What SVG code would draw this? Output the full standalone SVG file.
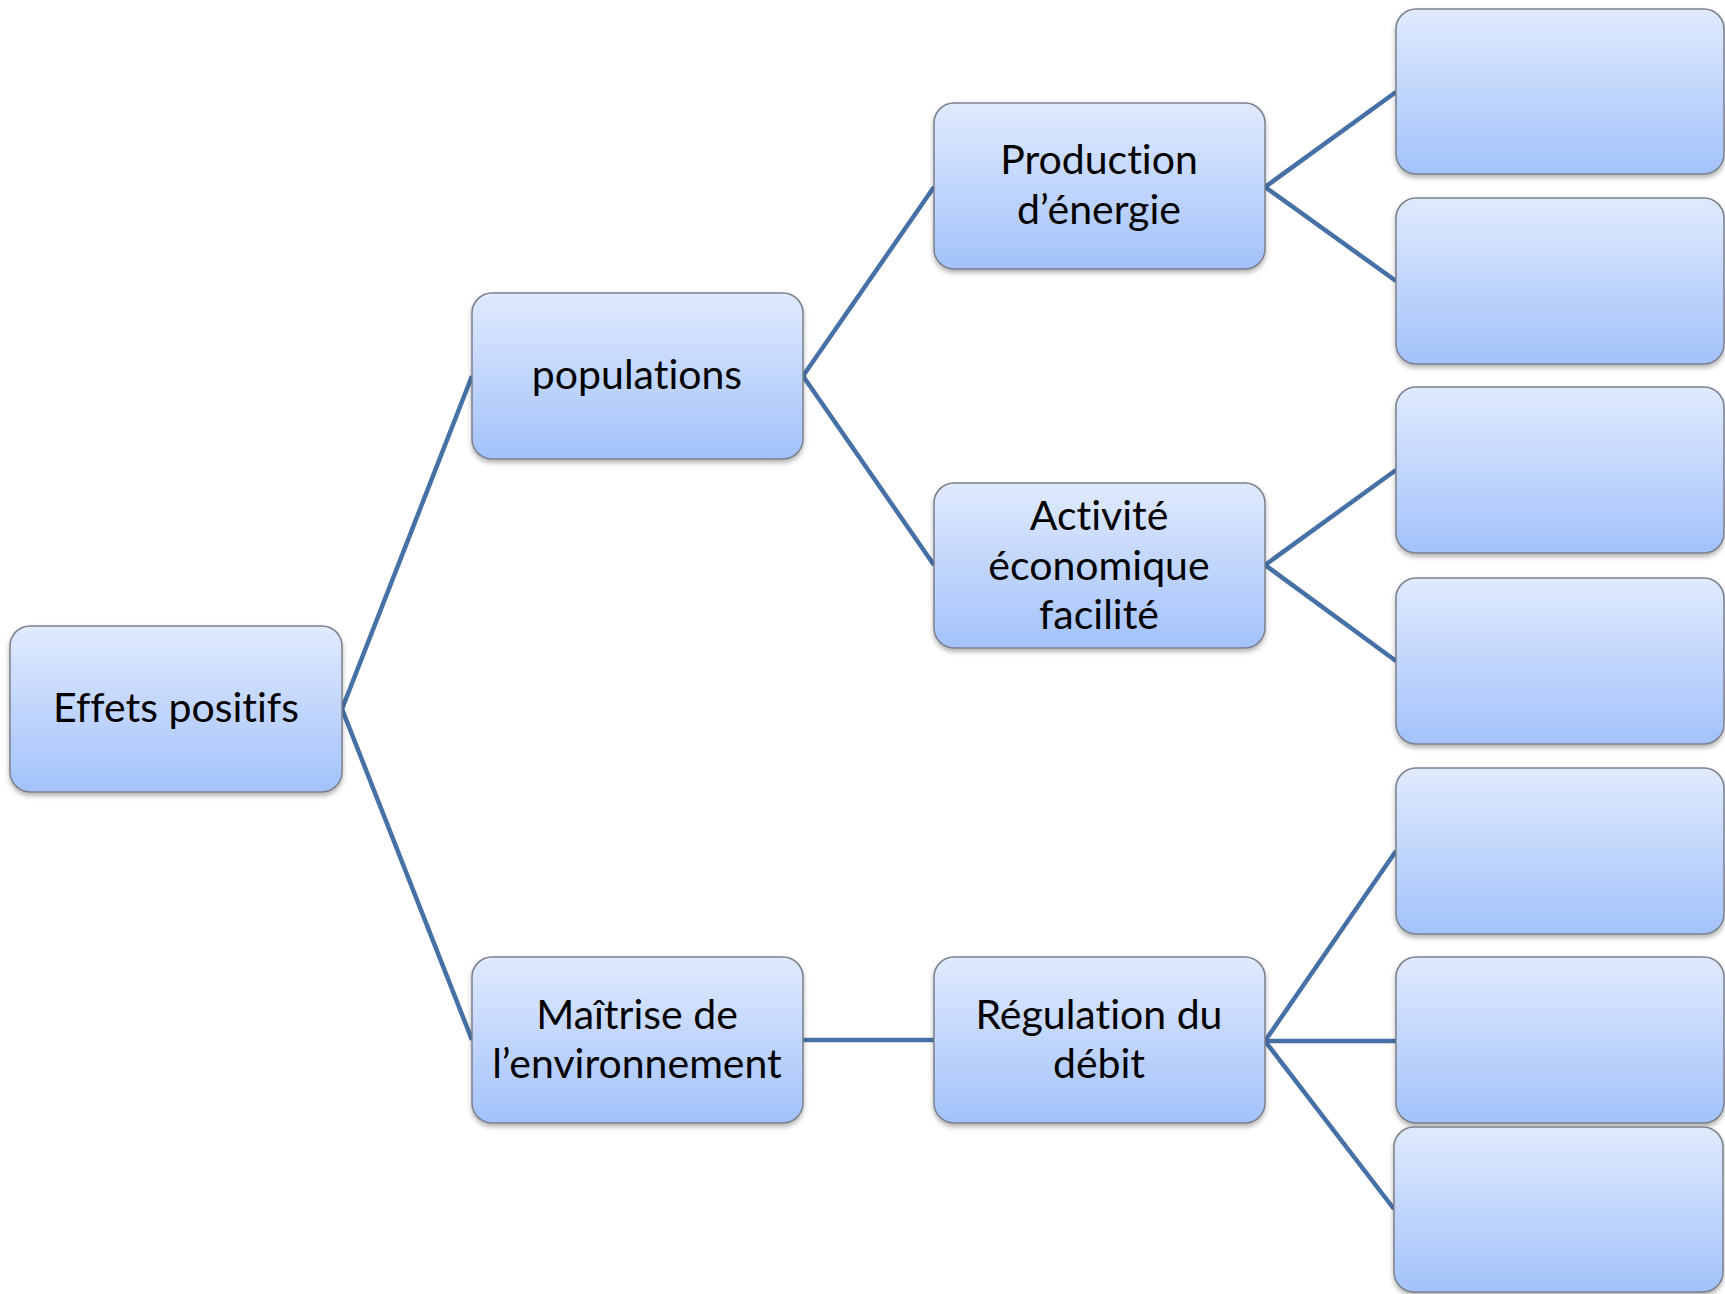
<svg xmlns="http://www.w3.org/2000/svg" width="1725" height="1294" viewBox="0 0 1725 1294">
<defs>
<linearGradient id="g" x1="0" y1="0" x2="0" y2="1">
<stop offset="0" stop-color="#e0eafd"/>
<stop offset="1" stop-color="#a3c2fb"/>
</linearGradient>
<filter id="sh" x="-5%" y="-5%" width="110%" height="115%">
<feDropShadow dx="0" dy="3" stdDeviation="2.5" flood-color="#000" flood-opacity="0.3"/>
</filter>
<style>
.box{fill:url(#g);stroke:#7b808c;stroke-width:1.5;filter:url(#sh)}
.t{font-family:Lato,"Open Sans","Liberation Sans",sans-serif;font-size:41px;fill:#000;text-anchor:middle;font-variant-ligatures:none;font-feature-settings:"liga" 0,"dlig" 0}
.c{stroke:#4671a7;stroke-width:4.5;fill:none}
</style>
</defs>
<rect width="1725" height="1294" fill="#fff"/>
<g id="connectors">
<line class="c" x1="342" y1="709" x2="472" y2="376"/>
<line class="c" x1="342" y1="709" x2="472" y2="1040"/>
<line class="c" x1="803" y1="376" x2="934" y2="187"/>
<line class="c" x1="803" y1="376" x2="934" y2="565"/>
<line class="c" x1="803" y1="1040" x2="934" y2="1040"/>
<line class="c" x1="1265" y1="187" x2="1396" y2="92"/>
<line class="c" x1="1265" y1="187" x2="1396" y2="281"/>
<line class="c" x1="1265" y1="565" x2="1396" y2="470"/>
<line class="c" x1="1265" y1="565" x2="1396" y2="661"/>
<line class="c" x1="1265" y1="1041" x2="1396" y2="851"/>
<line class="c" x1="1265" y1="1041" x2="1396" y2="1041"/>
<line class="c" x1="1265" y1="1041" x2="1394" y2="1209"/>
</g>
<g id="n-effets"><rect class="box" x="10" y="626" width="332" height="166" rx="20"/><text class="t" x="176" y="722">Effets positifs</text></g>
<g id="n-populations"><rect class="box" x="472" y="293" width="331" height="166" rx="20"/><text class="t" x="637" y="389">populations</text></g>
<g id="n-maitrise"><rect class="box" x="472" y="957" width="331" height="166" rx="20"/><text class="t" x="637" y="1029">Maîtrise de</text><text class="t" x="637" y="1078">l’environnement</text></g>
<g id="n-production"><rect class="box" x="934" y="103" width="331" height="166" rx="20"/><text class="t" x="1099" y="174">Production</text><text class="t" x="1099" y="224">d’énergie</text></g>
<g id="n-activite"><rect class="box" x="934" y="483" width="331" height="165" rx="20"/><text class="t" x="1099" y="530">Activité</text><text class="t" x="1099" y="580">économique</text><text class="t" x="1099" y="629">facilité</text></g>
<g id="n-regulation"><rect class="box" x="934" y="957" width="331" height="166" rx="20"/><text class="t" x="1099" y="1029">Régulation du</text><text class="t" x="1099" y="1078">débit</text></g>
<g id="n-leaf1"><rect class="box" x="1396" y="9" width="328" height="165" rx="20"/></g>
<g id="n-leaf2"><rect class="box" x="1396" y="198" width="328" height="166" rx="20"/></g>
<g id="n-leaf3"><rect class="box" x="1396" y="387" width="328" height="166" rx="20"/></g>
<g id="n-leaf4"><rect class="box" x="1396" y="578" width="328" height="166" rx="20"/></g>
<g id="n-leaf5"><rect class="box" x="1396" y="768" width="328" height="166" rx="20"/></g>
<g id="n-leaf6"><rect class="box" x="1396" y="957" width="328" height="166" rx="20"/></g>
<g id="n-leaf7"><rect class="box" x="1394" y="1127" width="329" height="165" rx="20"/></g>
</svg>
